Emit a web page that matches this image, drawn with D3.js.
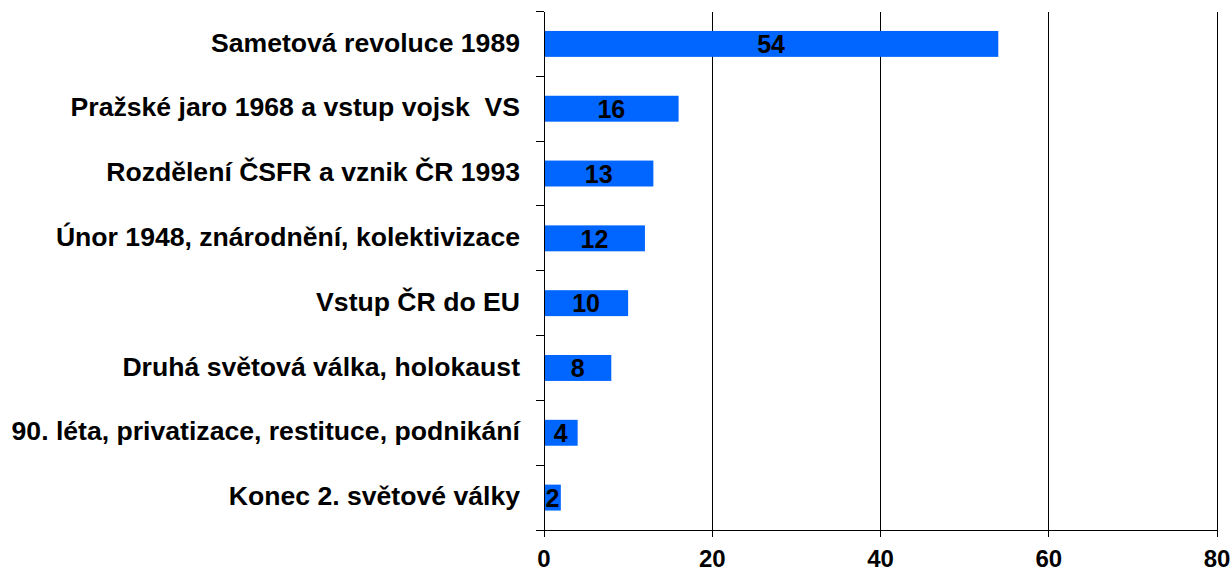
<!DOCTYPE html>
<html><head><meta charset="utf-8">
<script src="https://cdn.jsdelivr.net/npm/d3@7"></script>
<style>body{margin:0;background:#fff}svg{display:block}text{font-family:"Liberation Sans",Arial,sans-serif;font-weight:bold;white-space:pre}</style>
</head><body><svg id="c" width="1232" height="568"></svg>
<script>
const categories = ["Sametová revoluce 1989","Pražské jaro 1968 a vstup vojsk  VS","Rozdělení ČSFR a vznik ČR 1993","Únor 1948, znárodnění, kolektivizace","Vstup ČR do EU","Druhá světová válka, holokaust","90. léta, privatizace, restituce, podnikání","Konec 2. světové války"];
const values = [54,16,13,12,10,8,4,2];
const xTicks = [0,20,40,60,80];

(function(){
const svg = d3.select("#c");
const pL = 544, pR = 1217, pT = 11.5, pB = 530;
const x = d3.scaleLinear().domain([0,80]).range([pL,pR]);
const y = d3.scaleBand().domain(categories).range([pT,pB]).paddingInner(0.6).paddingOuter(0.3);

svg.append("g").selectAll("line").data(xTicks.slice(1)).join("line")
  .attr("x1",d=>x(d)).attr("x2",d=>x(d)).attr("y1",pT).attr("y2",pB)
  .attr("stroke","#000").attr("stroke-width",1).attr("shape-rendering","crispEdges");

svg.append("g").selectAll("rect").data(values).join("rect")
  .attr("x",x(0)).attr("y",(d,i)=>y(categories[i]))
  .attr("width",d=>x(d)-x(0)).attr("height",y.bandwidth())
  .attr("fill","#0066ff");

svg.append("g").selectAll("text").data(values).join("text")
  .attr("x",d=>(x(0)+x(d))/2).attr("y",(d,i)=>y(categories[i])+y.bandwidth()/2)
  .attr("dy","0.37em").attr("text-anchor","middle").attr("font-size",25).attr("fill","#000")
  .text(d=>d);

const step = (pB-pT)/categories.length;
const ya = svg.append("g");
ya.append("line").attr("x1",pL).attr("x2",pL).attr("y1",pT).attr("y2",pB).attr("stroke","#000").attr("shape-rendering","crispEdges");
ya.selectAll("line.t").data(d3.range(categories.length+1)).join("line").attr("class","t")
  .attr("x1",pL-8).attr("x2",pL).attr("y1",i=>pT+i*step).attr("y2",i=>pT+i*step)
  .attr("stroke","#000").attr("shape-rendering","crispEdges");
ya.selectAll("text").data(categories).join("text")
  .attr("x",520).attr("y",d=>y(d)+y.bandwidth()/2).attr("dy","0.29em")
  .attr("text-anchor","end").attr("font-size",26.6).attr("fill","#000").text(d=>d);

const xa = svg.append("g");
xa.append("line").attr("x1",pL-8).attr("x2",pR).attr("y1",pB).attr("y2",pB).attr("stroke","#000").attr("shape-rendering","crispEdges");
xa.selectAll("line.t").data(xTicks).join("line").attr("class","t")
  .attr("x1",d=>x(d)).attr("x2",d=>x(d)).attr("y1",pB).attr("y2",pB+7)
  .attr("stroke","#000").attr("shape-rendering","crispEdges");
xa.selectAll("text").data(xTicks).join("text")
  .attr("x",d=>x(d)).attr("y",567).attr("text-anchor","middle").attr("font-size",24).attr("fill","#000").text(d=>d);
})();
</script></body></html>
